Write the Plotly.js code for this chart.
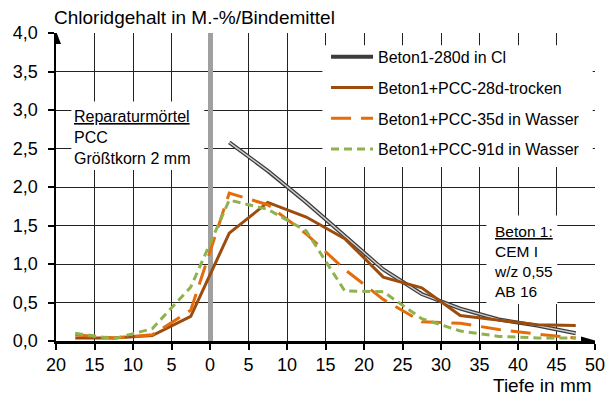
<!DOCTYPE html>
<html>
<head>
<meta charset="utf-8">
<script src="https://cdn.plot.ly/plotly-3.0.1.min.js"></script>
<style>html,body{margin:0;padding:0;background:#fff;}#chart{width:608px;height:399px;}</style>
</head>
<body>
<div id="chart"></div>
<script>
// ---- data ----
const depth = [-17.5, -12.5, -7.5, -2.5, 2.5, 7.5, 12.5, 17.5, 22.5, 27.5, 32.5, 37.5, 42.5, 47.5];
const depth280 = [2.5, 7.5, 12.5, 17.5, 22.5, 27.5, 32.5, 37.5, 42.5, 47.5];
const beton280dCl = [2.58, 2.21, 1.80, 1.37, 0.93, 0.61, 0.42, 0.28, 0.20, 0.10];
const pcc28dTrocken = [0.04, 0.04, 0.07, 0.32, 1.40, 1.80, 1.61, 1.33, 0.83, 0.69, 0.33, 0.27, 0.21, 0.20];
const pcc35dWasser = [0.08, 0.04, 0.08, 0.40, 1.92, 1.77, 1.39, 0.93, 0.54, 0.25, 0.23, 0.15, 0.09, 0.04];
const pcc91dWasser = [0.10, 0.03, 0.16, 0.70, 1.83, 1.71, 1.43, 0.65, 0.64, 0.29, 0.13, 0.06, 0.04, 0.04];
const seriesNames = ['Beton1-280d in Cl', 'Beton1+PCC-28d-trocken', 'Beton1+PCC-35d in Wasser', 'Beton1+PCC-91d in Wasser'];
const xTickVals = [-20, -15, -10, -5, 0, 5, 10, 15, 20, 25, 30, 35, 40, 45, 50];
const xTickText = ['20', '15', '10', '5', '0', '5', '10', '15', '20', '25', '30', '35', '40', '45', '50'];

const FONT = 'Liberation Sans, Arial, sans-serif';

const traces = [
  {x: depth280, y: beton280dCl, name: seriesNames[0], legendgroup: 'a', mode: 'lines',
   line: {color: '#3c3c3c', width: 4}},
  {x: depth280, y: beton280dCl, name: seriesNames[0], legendgroup: 'a', showlegend: false, mode: 'lines',
   line: {color: '#cfcfcf', width: 1.4}, hoverinfo: 'skip'},
  {x: depth, y: pcc28dTrocken, name: seriesNames[1], legendgroup: 'b', mode: 'lines',
   line: {color: '#9c4c0c', width: 3}},
  {x: depth, y: pcc35dWasser, name: seriesNames[2], legendgroup: 'c', mode: 'lines',
   line: {color: '#e46c0a', width: 3, dash: '20px,10px'}},
  {x: depth, y: pcc91dWasser, name: seriesNames[3], legendgroup: 'd', mode: 'lines',
   line: {color: '#8fb24e', width: 3, dash: '8px,5px'}}
];

const layout = {
  width: 608, height: 399,
  margin: {l: 56, r: 13, t: 33, b: 58},
  paper_bgcolor: '#fff', plot_bgcolor: '#fff',
  separators: ',.',
  font: {family: FONT, color: '#000', size: 16},
  title: {text: 'Chloridgehalt in M.-%/Bindemittel', font: {family: FONT, size: 19, color: '#000'},
          xref: 'container', x: 54 / 608, xanchor: 'left', yref: 'container', y: 1 - 17 / 399, yanchor: 'middle'},
  showlegend: true,
  legend: {x: 0.501, y: 0.978, xanchor: 'left', yanchor: 'top', bgcolor: 'rgba(0,0,0,0)', borderwidth: 0,
           itemwidth: 42, font: {family: FONT, size: 16, color: '#000'}, tracegroupgap: 7},
  xaxis: {range: [-20, 50], tickvals: xTickVals, ticktext: xTickText, showgrid: true, gridcolor: '#222', gridwidth: 1,
          zeroline: true, zerolinecolor: '#a0a0a0', zerolinewidth: 5,
          showline: true, linecolor: '#000', linewidth: 2.5, ticks: 'outside', ticklen: 6, tickwidth: 2, tickcolor: '#000',
          tickfont: {family: FONT, size: 18, color: '#000'}, ticklabelstandoff: 0, fixedrange: true},
  yaxis: {range: [0, 4], dtick: 0.5, tick0: 0, tickformat: '.1f', showgrid: true, gridcolor: '#222', gridwidth: 1,
          zeroline: false, showline: true, linecolor: '#000', linewidth: 2.5, ticks: 'outside', ticklen: 6, tickwidth: 2,
          tickcolor: '#000', tickfont: {family: FONT, size: 18, color: '#000'}, ticklabelstandoff: 6, fixedrange: true},
  shapes: [
    // white backgrounds of the text boxes and legend (over grid, under traces)
    {type: 'rect', layer: 'between', xref: 'x', yref: 'y', x0: -18.0, x1: -0.75, y0: 2.22, y1: 3.11,
     fillcolor: '#fff', line: {width: 0}},
    {type: 'rect', layer: 'between', xref: 'x', yref: 'y', x0: 35.9, x1: 45.1, y0: 0.48, y1: 1.63,
     fillcolor: '#fff', line: {width: 0}},
    {type: 'rect', layer: 'between', xref: 'x', yref: 'y', x0: 14.6, x1: 49.7, y0: 2.26, y1: 3.84,
     fillcolor: '#fff', line: {width: 0}},
    // axis arrow heads
    {type: 'path', layer: 'above', xref: 'x', yref: 'y', xsizemode: 'pixel', ysizemode: 'pixel', xanchor: 50, yanchor: 0,
     path: 'M -14,-4.5 L 2,0 L -14,4.5 Z', fillcolor: '#000', line: {width: 0}},
    {type: 'path', layer: 'above', xref: 'x', yref: 'y', xsizemode: 'pixel', ysizemode: 'pixel', xanchor: -20, yanchor: 4,
     path: 'M -5,-11 L 0,2 L 5,-11 Z', fillcolor: '#000', line: {width: 0}}
  ],
  annotations: [
    {xref: 'paper', yref: 'paper', x: 1, y: (341 - 398) / 308, xanchor: 'right', yanchor: 'bottom', xshift: -1,
     text: 'Tiefe in mm', showarrow: false, font: {family: FONT, size: 19, color: '#000'}},
    {xref: 'x', yref: 'y', x: -17.9, y: 3.05, xanchor: 'left', yanchor: 'top', align: 'left', showarrow: false,
     text: '<u>Reparaturmörtel</u><br>PCC<br>Größtkorn 2 mm', font: {family: FONT, size: 16, color: '#000'}},
    {xref: 'x', yref: 'y', x: 36.6, y: 1.56, xanchor: 'left', yanchor: 'top', align: 'left', showarrow: false,
     text: '<u>Beton 1:</u><br>CEM I<br>w/z 0,55<br>AB 16', font: {family: FONT, size: 15.5, color: '#000'}}
  ]
};

Plotly.newPlot('chart', traces, layout, {displayModeBar: false, staticPlot: true});
</script>
</body>
</html>
